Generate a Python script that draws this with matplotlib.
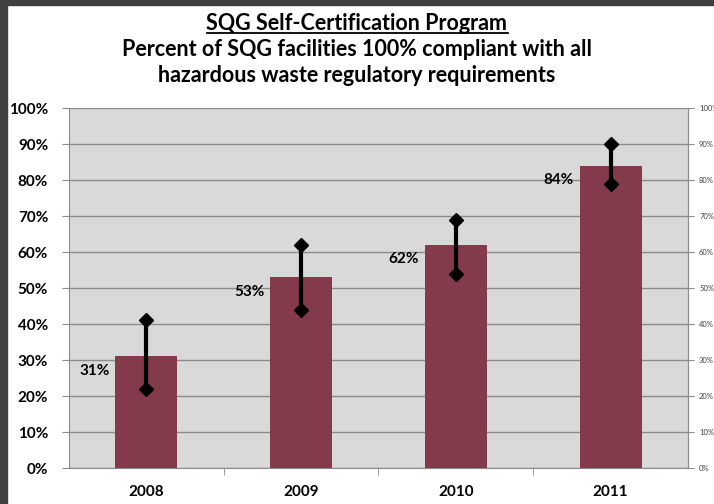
import numpy as np
import matplotlib.pyplot as plt
from matplotlib.lines import Line2D
from matplotlib.patches import Rectangle

years = ['2008', '2009', '2010', '2011']
pct = [31, 53, 62, 84]
err_low = [22, 44, 54, 79]
err_high = [41, 62, 69, 90]
yticks = [0, 10, 20, 30, 40, 50, 60, 70, 80, 90, 100]

plt.rcParams['font.family'] = ['Lato', 'DejaVu Sans']

fig = plt.figure(figsize=(7.14, 5.04), dpi=100)
ax = fig.add_axes([0.0966, 0.0714, 0.8670, 0.7143])

# dark frame strips at top and left like the original screenshot
fig.patches.append(Rectangle((0, 0), 7 / 714, 1, transform=fig.transFigure, color='#404040', zorder=-1))
fig.patches.append(Rectangle((0, 1 - 5 / 504), 1, 5 / 504, transform=fig.transFigure, color='#404040', zorder=-1))

x = np.arange(len(years))
ax.set_facecolor('#d9d9d9')
ax.bar(x, pct, width=0.4, color='#833a4b', zorder=3)

# error bars
for xi, lo, hi in zip(x, err_low, err_high):
    ax.plot([xi, xi], [lo, hi], color='black', lw=3, zorder=4)
    ax.plot([xi, xi], [lo, hi], ls='none', marker='D', ms=7, color='black', zorder=5)

# data labels to the left of each bar
for xi, v in zip(x, pct):
    ax.annotate(f'{v}%', (xi - 0.2, v - 4), xytext=(-4, 0), textcoords='offset points',
                ha='right', va='center', fontsize=11, fontweight='bold')

ax.set_xlim(-0.5, 3.5)
ax.set_ylim(0, 100)
ax.set_yticks(yticks)
ax.set_yticklabels([f'{t}%' for t in yticks], fontsize=11, fontweight='bold')
ax.yaxis.grid(True, color='#8c8c8c', lw=1, zorder=0)
ax.set_xticks(x)
ax.set_xticklabels(years, fontsize=11, fontweight='bold')
ax.tick_params(axis='x', which='major', length=0, pad=12)
ax.set_xticks([0.5, 1.5, 2.5], minor=True)
ax.tick_params(axis='x', which='minor', length=5, color='#8c8c8c')
ax.tick_params(axis='y', length=5, color='#8c8c8c', pad=10)
ax.spines['top'].set_visible(False)
for s in ['left', 'bottom', 'right']:
    ax.spines[s].set_color('#8c8c8c')

ax2 = ax.twinx()
ax2.set_ylim(0, 100)
ax2.set_yticks(yticks)
ax2.set_yticklabels([f'{t}%' for t in yticks], fontsize=5.5, color='#404040')
ax2.tick_params(axis='y', length=4, color='#8c8c8c', pad=4)
for s in ['top', 'left', 'bottom']:
    ax2.spines[s].set_visible(False)
ax2.spines['right'].set_color('#8c8c8c')

# titles
t1 = fig.text(0.5, 1 - 30 / 504, 'SQG Self-Certification Program', ha='center', va='baseline',
              fontsize=15.5, fontweight='bold')
fig.text(0.5, 1 - 56 / 504, 'Percent of SQG facilities 100% compliant with all', ha='center',
         va='baseline', fontsize=15.5, fontweight='bold')
fig.text(0.5, 1 - 82 / 504, 'hazardous waste regulatory requirements', ha='center',
         va='baseline', fontsize=15.5, fontweight='bold')

fig.canvas.draw()
bb = t1.get_window_extent().transformed(fig.transFigure.inverted())
uy = 1 - 33 / 504
fig.lines.append(Line2D([bb.x0, bb.x1], [uy, uy], transform=fig.transFigure, color='black', lw=1.3))

fig.savefig('out.png', dpi=100)
